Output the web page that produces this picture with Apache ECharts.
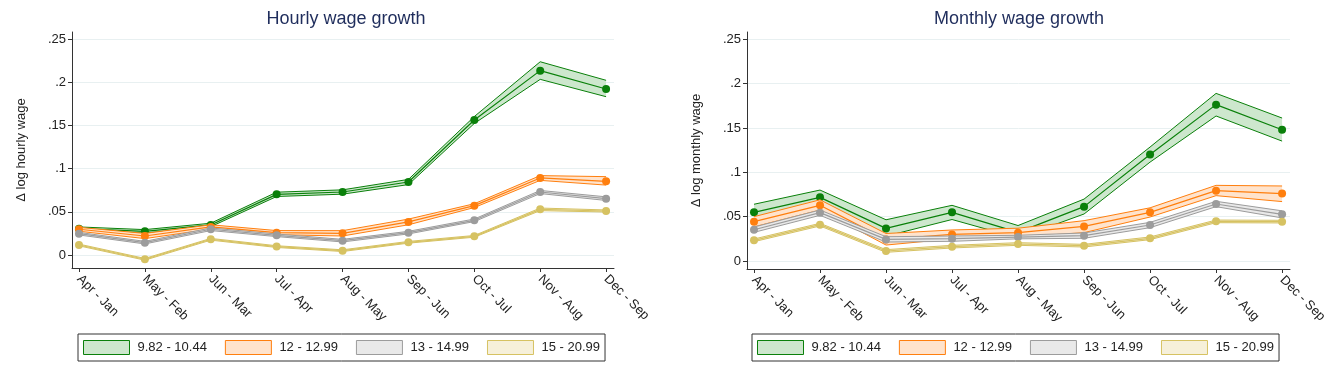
<!DOCTYPE html>
<html>
<head>
<meta charset="utf-8">
<script src="https://cdn.jsdelivr.net/npm/echarts@6/dist/echarts.min.js"></script>
<style>
html,body{margin:0;padding:0;background:#fff;}
#chart{width:1341px;height:372px;}
</style>
</head>
<body>
<div id="chart"></div>
<script>
// ---- Data ----
const categories = ['Apr - Jan','May - Feb','Jun - Mar','Jul - Apr','Aug - May','Sep - Jun','Oct - Jul','Nov - Aug','Dec - Sep'];
const groupNames = ['9.82 - 10.44','12 - 12.99','13 - 14.99','15 - 20.99'];
const yTicks = [0, 0.05, 0.1, 0.15, 0.2, 0.25];
const xTicks = [0,1,2,3,4,5,6,7,8];

// Hourly wage growth
const hourlyG1 = [0.0305,0.0274,0.0348,0.0703,0.0730,0.0846,0.1565,0.2137,0.1924];
const hourlyG1Lo = [0.0285,0.0254,0.0328,0.0678,0.0705,0.0816,0.1525,0.2036,0.1835];
const hourlyG1Hi = [0.0325,0.0294,0.0368,0.0728,0.0755,0.0876,0.1605,0.2240,0.2025];
const hourlyG2 = [0.0298,0.0220,0.0325,0.0259,0.0251,0.0383,0.0572,0.0893,0.0854];
const hourlyG2Lo = [0.0275,0.0190,0.0300,0.0235,0.0220,0.0350,0.0550,0.0865,0.0810];
const hourlyG2Hi = [0.0320,0.0250,0.0350,0.0283,0.0282,0.0416,0.0594,0.0920,0.0908];
const hourlyG3 = [0.0247,0.0143,0.0298,0.0228,0.0166,0.0259,0.0402,0.0730,0.0653];
const hourlyG3Lo = [0.0232,0.0128,0.0283,0.0213,0.0151,0.0244,0.0387,0.0712,0.0632];
const hourlyG3Hi = [0.0262,0.0158,0.0313,0.0243,0.0181,0.0274,0.0417,0.0748,0.0674];
const hourlyG4 = [0.0116,-0.0050,0.0182,0.0097,0.0050,0.0147,0.0216,0.0529,0.0510];
const hourlyG4Lo = [0.0106,-0.0060,0.0172,0.0087,0.0040,0.0137,0.0206,0.0514,0.0498];
const hourlyG4Hi = [0.0126,-0.0040,0.0192,0.0107,0.0060,0.0157,0.0226,0.0544,0.0522];

// Monthly wage growth
const monthlyG1 = [0.0549,0.0718,0.0368,0.0549,0.0323,0.0613,0.1200,0.1763,0.1480];
const monthlyG1Lo = [0.0470,0.0650,0.0280,0.0468,0.0260,0.0530,0.1115,0.1635,0.1352];
const monthlyG1Hi = [0.0640,0.0800,0.0465,0.0628,0.0400,0.0698,0.1285,0.1890,0.1612];
const monthlyG2 = [0.0444,0.0628,0.0244,0.0300,0.0320,0.0390,0.0549,0.0793,0.0760];
const monthlyG2Lo = [0.0385,0.0575,0.0180,0.0250,0.0270,0.0320,0.0496,0.0737,0.0670];
const monthlyG2Hi = [0.0500,0.0690,0.0310,0.0350,0.0370,0.0455,0.0600,0.0853,0.0846];
const monthlyG3 = [0.0353,0.0545,0.0244,0.0252,0.0270,0.0286,0.0406,0.0643,0.0526];
const monthlyG3Lo = [0.0323,0.0515,0.0214,0.0222,0.0250,0.0256,0.0376,0.0613,0.0486];
const monthlyG3Hi = [0.0383,0.0575,0.0274,0.0282,0.0290,0.0316,0.0436,0.0673,0.0566];
const monthlyG4 = [0.0233,0.0410,0.0113,0.0162,0.0192,0.0173,0.0256,0.0447,0.0444];
const monthlyG4Lo = [0.0218,0.0395,0.0098,0.0147,0.0177,0.0158,0.0241,0.0432,0.0429];
const monthlyG4Hi = [0.0248,0.0425,0.0128,0.0177,0.0207,0.0188,0.0271,0.0462,0.0459];

// ---- Styles ----
const lineColors = ['#0a800a','#ff7f0e','#9c9c9c','#d6c262'];
const fillColors = ['#cde7cd','#ffe3cc','#e9e9e9','#f6f0da'];
const FONT = 'Liberation Sans, Arial, sans-serif';

const hourly = [[hourlyG1,hourlyG1Lo,hourlyG1Hi],[hourlyG2,hourlyG2Lo,hourlyG2Hi],[hourlyG3,hourlyG3Lo,hourlyG3Hi],[hourlyG4,hourlyG4Lo,hourlyG4Hi]];
const monthly = [[monthlyG1,monthlyG1Lo,monthlyG1Hi],[monthlyG2,monthlyG2Lo,monthlyG2Hi],[monthlyG3,monthlyG3Lo,monthlyG3Hi],[monthlyG4,monthlyG4Lo,monthlyG4Hi]];

function bandRender(fill){
  return function(params, api){
    if (params.dataIndexInside !== 0) return;
    const n = params.dataInsideLength;
    const top = [], bot = [];
    for (let j = 0; j < n; j++) {
      top.push(api.coord([api.value(0, j), api.value(2, j)]));
      bot.push(api.coord([api.value(0, j), api.value(1, j)]));
    }
    return {type:'polygon', shape:{points: top.concat(bot.reverse())}, style:{fill: fill}};
  };
}

function buildSeries(groups, axisIdx){
  const out = [];
  groups.forEach((g, k) => {
    const [mean, lo, hi] = g;
    const z = 2 + k;
    const name = groupNames[k];
    out.push({
      type:'custom', name, xAxisIndex:axisIdx, yAxisIndex:axisIdx, z, silent:true,
      data: categories.map((c,i)=>[i, lo[i], hi[i]]),
      encode:{x:0, y:[1,2]},
      itemStyle:{color: fillColors[k], borderColor: lineColors[k], borderWidth:1},
      renderItem: bandRender(fillColors[k])
    });
    [lo, hi].forEach(arr => out.push({
      type:'line', name, xAxisIndex:axisIdx, yAxisIndex:axisIdx, z, silent:true,
      data: arr.map((v,i)=>[i,v]), symbol:'none',
      lineStyle:{width:1, color: lineColors[k]}, itemStyle:{color: lineColors[k]}
    }));
    out.push({
      type:'line', name, xAxisIndex:axisIdx, yAxisIndex:axisIdx, z, silent:true,
      data: mean.map((v,i)=>[i,v]), symbol:'circle', symbolSize:8, showSymbol:true,
      lineStyle:{width:1.2, color: lineColors[k]}, itemStyle:{color: lineColors[k]}
    });
  });
  return out;
}

function xAxisCfg(idx){
  return {
    type:'value', gridIndex:idx, min:-0.106, max:8.12,
    axisLine:{show:true, onZero:false, lineStyle:{color:'#333', width:1}},
    axisTick:{show:true, length:4, customValues:xTicks, lineStyle:{color:'#333'}},
    axisLabel:{customValues:xTicks, formatter:v=>categories[Math.round(v)], rotate:-45, fontSize:13, color:'#222', margin:9, fontFamily:FONT},
    splitLine:{show:false}
  };
}
function yAxisCfg(idx, min, max, name){
  return {
    type:'value', gridIndex:idx, min, max, name, nameLocation:'middle', nameGap:44,
    nameTextStyle:{fontSize:13, color:'#222', fontFamily:FONT},
    axisLine:{show:true, onZero:false, lineStyle:{color:'#333', width:1}},
    axisTick:{show:true, length:4, customValues:yTicks, lineStyle:{color:'#333'}},
    axisLabel:{customValues:yTicks, formatter:v=> v===0 ? '0' : String(+v.toFixed(2)).replace(/^0/,''), fontSize:13, color:'#222', margin:6, fontFamily:FONT},
    splitLine:{show:true, lineStyle:{color:'#e8f0f1', width:1}}
  };
}
function legendCfg(left){
  return {
    left, top:334, orient:'horizontal', itemWidth:46, itemHeight:14, itemGap:18,
    padding:[6,5,6,5], borderColor:'#333', borderWidth:1, backgroundColor:'#fff',
    textStyle:{fontSize:13, color:'#222', fontFamily:FONT, padding:[0,0,0,3]},
    data: groupNames.map((n,k)=>({name:n, icon:'rect', itemStyle:{color:fillColors[k], borderColor:lineColors[k], borderWidth:1}}))
  };
}

const chart = echarts.init(document.getElementById('chart'), null, {renderer:'canvas'});
chart.setOption({
  animation:false,
  backgroundColor:'#fff',
  textStyle:{fontFamily:FONT},
  title:[
    {text:'Hourly wage growth', left:341, top:5, textAlign:'center', textStyle:{fontSize:18, fontWeight:'normal', color:'#1f2d5c', fontFamily:FONT}},
    {text:'Monthly wage growth', left:1014, top:5, textAlign:'center', textStyle:{fontSize:18, fontWeight:'normal', color:'#1f2d5c', fontFamily:FONT}}
  ],
  legend:[legendCfg(78), legendCfg(752)],
  grid:[
    {left:72, top:32, width:542, height:236},
    {left:747, top:32, width:543, height:237}
  ],
  xAxis:[xAxisCfg(0), xAxisCfg(1)],
  yAxis:[yAxisCfg(0, -0.0151, 0.2585, 'Δ log hourly wage'), yAxisCfg(1, -0.0090, 0.2582, 'Δ log monthly wage')],
  series: buildSeries(hourly, 0).concat(buildSeries(monthly, 1))
});
</script>
</body>
</html>
